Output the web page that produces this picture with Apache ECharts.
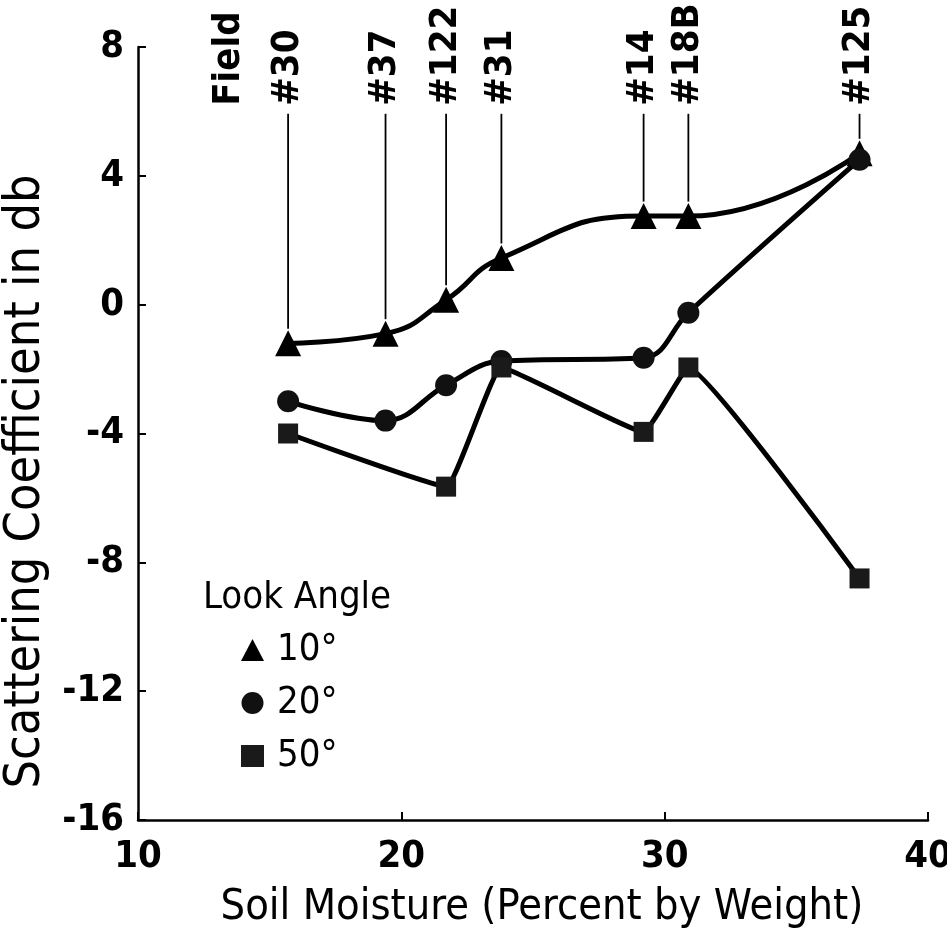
<!DOCTYPE html>
<html><head><meta charset="utf-8">
<script src="https://cdn.jsdelivr.net/npm/echarts@6/dist/echarts.min.js"></script>
<style>html,body{margin:0;padding:0;background:#fff}#c{width:947px;height:931px}</style>
</head><body><div id="c"></div>
<script>
// Field positions (soil moisture, % by weight)
const fieldNames = ['#30', '#37', '#122', '#31', '#14', '#18B', '#125'];
const fieldX = [15.7, 19.4, 21.7, 23.8, 29.2, 30.9, 37.4];
// Scattering coefficient (db) for each look angle
const look10 = [-1.2, -0.9, 0.15, 1.45, 2.75, 2.75, 4.7];
const look20 = [-3.0, -3.6, -2.5, -1.75, -1.65, -0.25, 4.5];
const look50X = [15.7, 21.7, 23.8, 29.2, 30.9, 37.4];
const look50 = [-4.0, -5.65, -1.95, -3.95, -1.95, -8.5];
const xTicks = [10, 20, 30, 40];
const yTicks = [-16, -12, -8, -4, 0, 4, 8];

const FONT = "'DejaVu Sans Condensed', 'Liberation Sans Narrow', 'DejaVu Sans', sans-serif";
const chart = echarts.init(document.getElementById('c'), null, {renderer: 'canvas'});

const pairs = (xs, ys) => xs.map((x, i) => [x, ys[i]]);
const annot = fieldX.map((x, i) => [x, 6.05, look10[i] + 0.45, fieldNames[i]]);
annot.unshift([13.45, 6.05, null, 'Field']);

chart.setOption({
  animation: false,
  backgroundColor: '#fff',
  title: [{text: 'Look Angle', left: 198, top: 574,
    textStyle: {fontFamily: FONT, fontSize: 38, fontWeight: 'normal', color: '#000'}}],
  legend: {
    orient: 'vertical', left: 236, top: 625, itemWidth: 23, itemHeight: 22, itemGap: 13,
    textStyle: {fontFamily: FONT, fontSize: 38, color: '#000', lineHeight: 40, padding: [0, 0, 0, 8]},
    data: [{name: '10°', icon: 'triangle'}, {name: '20°', icon: 'circle'}, {name: '50°', icon: 'rect'}]
  },
  grid: {left: 138, right: 19, top: 47, bottom: 111, containLabel: false, outerBoundsMode: 'none'},
  xAxis: {
    type: 'value', min: 10, max: 40, interval: 10,
    name: 'Soil Moisture (Percent by Weight)', nameLocation: 'middle', nameGap: 66,
    nameTextStyle: {fontFamily: FONT, fontSize: 43, color: '#000', padding: [0, 0, 0, 18]},
    axisLine: {onZero: false, lineStyle: {color: '#000', width: 2.5}},
    axisTick: {inside: true, length: 8, lineStyle: {color: '#000', width: 2}},
    axisLabel: {fontFamily: FONT, fontSize: 38, color: '#000', margin: 18, fontWeight: 'bold',
      formatter: v => xTicks.includes(v) ? String(v) : ''},
    splitLine: {show: false}
  },
  yAxis: {
    type: 'value', min: -16, max: 8, interval: 4,
    name: 'Scattering Coefficient in db', nameLocation: 'middle', nameGap: 82,
    nameTextStyle: {fontFamily: FONT, fontSize: 50, color: '#000', padding: [0, 96, 0, 0]},
    axisLine: {onZero: false, lineStyle: {color: '#000', width: 2.5}},
    axisTick: {inside: true, length: 8, lineStyle: {color: '#000', width: 2}},
    axisLabel: {fontFamily: FONT, fontSize: 38, color: '#000', margin: 14, fontWeight: 'bold',
      formatter: v => yTicks.includes(v) ? String(v) : ''},
    splitLine: {show: false}
  },
  series: [
    {name: '10°', type: 'line', smooth: 0.5, data: pairs(fieldX, look10),
      symbol: 'triangle', symbolSize: 26, lineStyle: {color: '#000', width: 5},
      itemStyle: {color: '#000'}, z: 3},
    {name: '20°', type: 'line', smooth: 0.4, data: pairs(fieldX, look20),
      symbol: 'circle', symbolSize: 22, lineStyle: {color: '#000', width: 5},
      itemStyle: {color: '#111'}, z: 3},
    {name: '50°', type: 'line', smooth: 0.1, data: pairs(look50X, look50),
      symbol: 'rect', symbolSize: 20, lineStyle: {color: '#000', width: 5},
      itemStyle: {color: '#1a1a1a'}, z: 3},
    {name: 'fields', type: 'custom', clip: false, silent: true, data: annot,
      renderItem: (params, api) => {
        const x = api.value(0), yTop = api.value(1), yEnd = api.value(2);
        const top = api.coord([x, yTop]);
        const children = [{
          type: 'text', x: top[0], y: top[1] - 4, rotation: Math.PI / 2,
          style: {text: annot[params.dataIndex][3], fontFamily: FONT, fontSize: 38,
            fontWeight: 'bold', fill: '#000', align: 'left', verticalAlign: 'middle'}
        }];
        if (yEnd !== null && !isNaN(yEnd)) {
          const end = api.coord([x, yEnd]);
          children.push({type: 'line', shape: {x1: top[0], y1: top[1] + 4, x2: end[0], y2: end[1]},
            style: {stroke: '#000', lineWidth: 1.8}});
        }
        return {type: 'group', children};
      }}
  ]
});
</script></body></html>
